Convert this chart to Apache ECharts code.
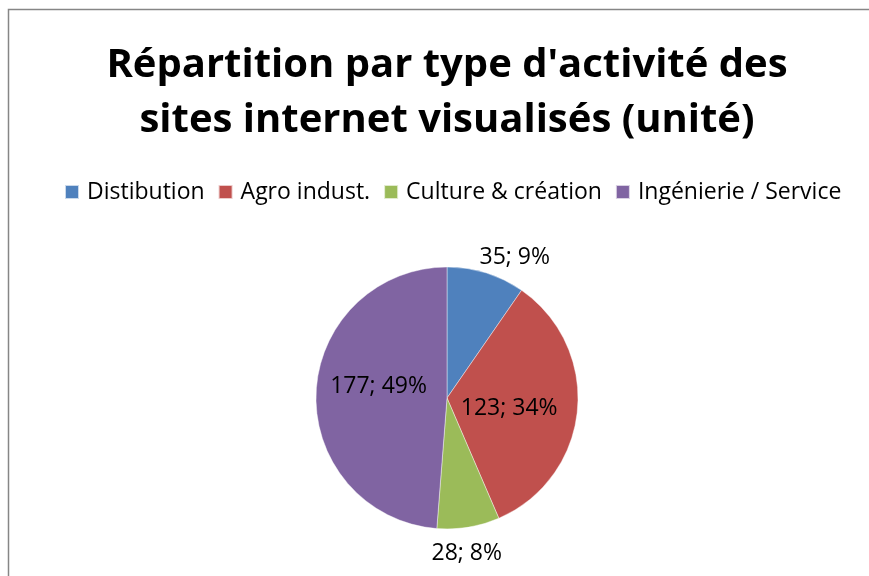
<!DOCTYPE html>
<html>
<head>
<meta charset="utf-8">
<script src="https://cdn.jsdelivr.net/npm/echarts@6/dist/echarts.min.js"></script>
<style>
  html, body { margin: 0; padding: 0; background: #fff; }
  #chart { width: 869px; height: 576px; }
</style>
</head>
<body>
<div id="chart"></div>
<script>
// Sites visited, grouped by type of activity
const categories = ['Distibution', 'Agro indust.', 'Culture & création', 'Ingénierie / Service'];
const siteCounts = [35, 123, 28, 177];
const sliceColors = ['#4F81BD', '#C0504D', '#9BBB59', '#8064A2'];
const titleLines = ["Répartition par type d'activité des", 'sites internet visualisés (unité)'];

// Small slices get their label outside the pie, large ones inside
const labelInside = [false, true, false, true];
// Fine nudges of each label from its default anchor
const labelNudge = [[-19, 8], [-6, 4], [-46, 2], [0, -9]];

const FONT = '"Open Sans", "Noto Sans", sans-serif';

const chart = echarts.init(document.getElementById('chart'), null, { renderer: 'canvas' });

const pieData = categories.map((name, i) => ({
  name,
  value: siteCounts[i],
  itemStyle: { color: sliceColors[i] },
  label: { position: labelInside[i] ? 'inside' : 'outside' },
  labelLine: { show: false }
}));

chart.setOption({
  animation: false,
  backgroundColor: '#fff',
  graphic: [{
    type: 'rect',
    shape: { x: 8.5, y: 9.5, width: 900, height: 600 },
    style: { fill: 'none', stroke: '#868686', lineWidth: 1.5 },
    silent: true
  }],
  title: {
    text: titleLines.join('\n'),
    // both lines centred on the pie's axis (x = 447)
    left: 442,
    top: 33,
    textAlign: 'center',
    textStyle: {
      fontFamily: FONT,
      fontWeight: 'bold',
      fontSize: 40,
      lineHeight: 55,
      color: '#000'
    }
  },
  legend: {
    top: 175,
    left: 59,
    itemWidth: 14,
    itemHeight: 14,
    itemGap: 13,
    icon: 'rect',
    textStyle: {
      fontFamily: FONT, fontSize: 23, lineHeight: 24, color: '#000',
      padding: [0, 0, 0, 3]
    },
    data: categories
  },
  series: [{
    type: 'pie',
    center: [447, 398],
    radius: 131,
    startAngle: 90,
    clockwise: true,
    percentPrecision: 0,
    itemStyle: { borderColor: 'rgba(255,255,255,0.7)', borderWidth: 0.6 },
    label: {
      formatter: '{c}; {d}%',
      fontFamily: FONT,
      fontSize: 23,
      color: '#000'
    },
    labelLine: { show: false, length: 25, length2: 0 },
    labelLayout: (p) => ({ dx: labelNudge[p.dataIndex][0], dy: labelNudge[p.dataIndex][1] }),
    emphasis: { disabled: true },
    data: pieData
  }]
});
</script>
</body>
</html>
